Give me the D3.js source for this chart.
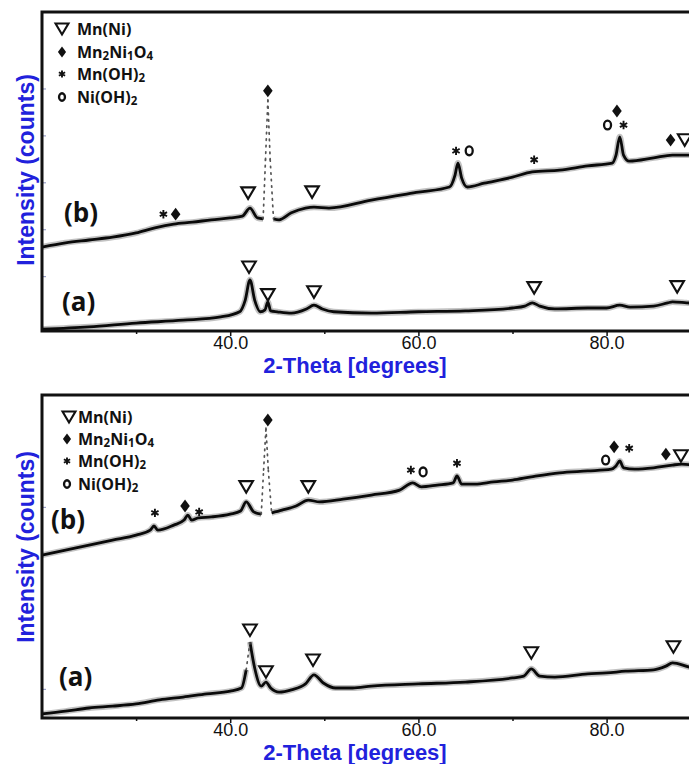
<!DOCTYPE html>
<html>
<head>
<meta charset="utf-8">
<script src="https://cdn.jsdelivr.net/npm/d3@7"></script>
<style>
  html, body { margin: 0; padding: 0; background: #fff; }
  svg { display: block; }
</style>
</head>
<body>
<svg id="chart" width="689" height="764"></svg>
<script>
// ---------------- DATA (2-Theta in degrees, intensity in counts) ----------------
const xTickValues = [30, 40, 50, 60, 70, 80];
const xTickLabels = ["", "40.0", "", "60.0", "", "80.0"];
const legendLabels = ["Mn(Ni)", "Mn2Ni1O4", "Mn(OH)2", "Ni(OH)2"];
const legendSymbols = ["tri", "dia", "ast", "o"];

// Upper figure
const upperB = [[20,262],[22.5,271],[25,277],[27.5,283],[30,292],[32,303],[34,311],[36,315],[38,320],[40,324],[41.3,328],[42.1,345],[42.9,324],[43.5,322],[43.75,448],[44.0,575],[44.25,448],[44.6,322],[45.2,320],[46.5,335],[48,345],[48.9,347],[50.5,345],[55,362],[60,379],[63.3,390],[63.9,416],[64.2,441],[64.6,409],[65.2,390],[67,398],[70,411],[72.1,422],[75,426],[78,435],[80.6,441],[81.0,458],[81.4,497],[81.8,458],[82.4,445],[85,452],[87,458],[90,458]];
const upperA = [[20,87],[25,92],[30,100],[35,106],[39,113],[41,124],[41.6,149],[42.1,192],[42.6,149],[43.2,124],[43.7,128],[44.0,145],[44.3,126],[45,124],[46.5,121],[48.1,130],[48.9,138],[49.8,130],[51,124],[55,121],[60,124],[65,126],[70,132],[71.3,136],[72.1,143],[72.9,136],[74.5,130],[78,132],[80,132],[81.4,138],[82.5,134],[85,136],[86.5,143],[87,145],[88.5,143],[90,141]];
const upperMarks = [
  ["ast",32.9,332],["dia",34.2,332],["tri",41.9,377],["dia",44.0,595],["tri",48.7,379],
  ["ast",64.0,467],["o",65.4,467],["ast",72.3,448],["o",80.1,522],["ast",81.8,522],["dia",81.1,552],
  ["dia",86.8,490],["tri",88.3,490],
  ["tri",42.0,219],["tri",44.0,160],["tri",48.9,166],["tri",72.3,175],["tri",87.5,177]
];
const upperYTicks = [200, 300, 400, 500, 600];

// Lower figure
const lowerB = [[20,394],[22.5,405],[25,416],[27.5,427],[30,438],[31.5,449],[31.9,458],[32.3,449],[34,460],[35.1,471],[35.5,482],[35.9,471],[36.6,476],[38,478],[40,484],[41.1,491],[41.7,511],[42.5,489],[43.3,484],[43.55,581],[43.8,673],[44.05,581],[44.4,487],[45.5,493],[47,502],[48.3,515],[49.5,511],[52,517],[55,526],[58,537],[59.4,553],[60.3,544],[62,548],[63.7,553],[64.1,568],[64.6,550],[66,550],[68,555],[70,559],[72,566],[75,575],[78,579],[80.5,583],[81.0,590],[81.4,601],[81.8,586],[83,583],[85,586],[87,592],[88,594],[90,590]];
const lowerA = [[20,45],[22.5,51],[25,58],[27.5,62],[30,67],[32.5,76],[35,82],[37.5,89],[40,95],[41.2,102],[41.7,142],[42.1,203],[42.6,146],[43.3,106],[43.8,115],[44.3,102],[45.2,93],[46.5,98],[48,111],[48.9,131],[49.9,113],[51.2,102],[53,102],[55,106],[60,111],[65,115],[70,124],[71.2,128],[72.0,144],[72.9,128],[74.5,126],[78,133],[80,135],[82,139],[85,142],[86.3,150],[87,157],[88.8,148],[90,144]];
const lowerMarks = [
  ["ast",32.0,487],["dia",35.2,502],["ast",36.7,489],["tri",41.7,544],["dia",44.0,691],["tri",48.3,544],
  ["ast",59.2,581],["o",60.5,577],["ast",64.1,596],["o",79.9,603],["dia",80.8,632],["ast",82.4,629],
  ["dia",86.3,616],["tri",87.9,612],
  ["tri",42.1,229],["tri",43.8,137],["tri",48.8,163],["tri",72.0,179],["tri",87.1,192]
];
const lowerYTicks = [100, 500];

// ---------------- LAYOUT ----------------
const svg = d3.select("#chart");
const BLUE = "#2121dc";
const x = d3.scaleLinear().domain([20, 90]).range([42, 700.7]);

const panels = [
  { top: 12, bottom: 331, yDomain: [83, 763], series: [upperB, upperA], marks: upperMarks, yTicks: upperYTicks,
    legend: { mx: 62, tx: 77, rows: [29, 52, 74, 97] },
    labels: [["(b)", 64, 222], ["(a)", 62, 311]], tickLabelPad: 0, xTitleY: 373, yTitleY: 170, triGap: 0 },
  { top: 395, bottom: 718, yDomain: [36, 746], series: [lowerB, lowerA], marks: lowerMarks, yTicks: lowerYTicks,
    legend: { mx: 67, tx: 78, rows: [417, 439, 461, 484] },
    labels: [["(b)", 51, 529], ["(a)", 59, 686]], tickLabelPad: 0, xTitleY: 760, yTitleY: 547, triGap: 2 }
];

function symbol(g, type, cx, cy, scale) {
  const s = scale || 1;
  if (type === "tri") {
    const w = 6.8 * s, h = 11.5 * s;
    g.append("path").attr("d", `M${cx - w},${cy - h / 2}L${cx + w},${cy - h / 2}L${cx},${cy + h / 2}Z`)
      .attr("fill", "#fff").attr("stroke", "#111").attr("stroke-width", 2.1).attr("stroke-linejoin", "miter");
  } else if (type === "dia") {
    const w = 4.8 * s, h = 6.4 * s;
    g.append("path").attr("d", `M${cx},${cy - h}L${cx + w},${cy}L${cx},${cy + h}L${cx - w},${cy}Z`).attr("fill", "#111");
  } else if (type === "ast") {
    const r = 4.2 * s;
    const p = [];
    for (let k = 0; k < 3; k++) {
      const a = Math.PI / 2 + k * Math.PI / 3;
      p.push(`M${cx - r * Math.cos(a)},${cy - r * Math.sin(a)}L${cx + r * Math.cos(a)},${cy + r * Math.sin(a)}`);
    }
    g.append("path").attr("d", p.join("")).attr("stroke", "#111").attr("stroke-width", 1.9).attr("fill", "none");
  } else if (type === "o") {
    g.append("ellipse").attr("cx", cx).attr("cy", cy).attr("rx", 3.5 * s).attr("ry", 4.4 * s)
      .attr("fill", "none").attr("stroke", "#111").attr("stroke-width", 2.3);
  }
}

function drawSeries(g, data, y) {
  const pts = data.map(d => [x(d[0]), y(d[1])]);
  const runs = [];
  let cur = [pts[0]];
  const dotted = [];
  for (let i = 0; i < pts.length - 1; i++) {
    const [x0, y0] = pts[i], [x1, y1] = pts[i + 1];
    const dy = Math.abs(y1 - y0), dx = Math.max(x1 - x0, 0.1);
    const steep = dy / dx > 7 && dy > 8;
    if (steep) {
      if (cur.length > 1) runs.push(cur);
      dotted.push([pts[i], pts[i + 1]]);
      cur = [pts[i + 1]];
    } else {
      cur.push(pts[i + 1]);
    }
  }
  if (cur.length > 1) runs.push(cur);
  const line = d3.line().curve(d3.curveMonotoneX);
  runs.forEach(r => {
    g.append("path").attr("d", line(r)).attr("fill", "none").attr("stroke", "#666")
      .attr("stroke-width", 6).attr("stroke-opacity", 0.4).attr("stroke-linejoin", "round");
    g.append("path").attr("d", line(r)).attr("fill", "none").attr("stroke", "#0a0a0a")
      .attr("stroke-width", 2.8).attr("stroke-linejoin", "round");
  });
  dotted.forEach(seg => {
    g.append("path").attr("d", d3.line()(seg)).attr("fill", "none").attr("stroke", "#555")
      .attr("stroke-width", 1.7).attr("stroke-dasharray", "1.5,5").attr("stroke-linecap", "round");
  });
}

panels.forEach(P => {
  const y = d3.scaleLinear().domain(P.yDomain).range([P.bottom, P.top]);
  const g = svg.append("g");

  // y ticks (tiny, inside the frame)
  const ya = g.append("g").attr("transform", `translate(${x.range()[0]},0)`)
    .call(d3.axisLeft(y).tickValues(P.yTicks).tickSize(-4).tickFormat(""));
  ya.select(".domain").remove();
  ya.selectAll(".tick line").attr("stroke", "#9aa0c8").attr("stroke-width", 1.2);

  // data
  P.series.forEach(s => drawSeries(g, s, y));

  // frame
  g.append("rect").attr("x", x.range()[0]).attr("y", P.top)
    .attr("width", x.range()[1] - x.range()[0]).attr("height", P.bottom - P.top)
    .attr("fill", "none").attr("stroke", "#111").attr("stroke-width", 3);

  // x axis
  const xa = g.append("g").attr("transform", `translate(0,${P.bottom})`)
    .call(d3.axisBottom(x).tickValues(xTickValues)
      .tickFormat((d, i) => xTickLabels[i]).tickSize(5).tickPadding(P.tickLabelPad));
  xa.select(".domain").remove();
  xa.selectAll(".tick line").attr("stroke", "#111").attr("stroke-width", 1.5)
    .attr("y2", (d, i) => xTickLabels[i] ? 5 : 3);
  xa.selectAll(".tick text").attr("font-family", "Liberation Sans, Arial, sans-serif")
    .attr("font-size", 18).attr("fill", "#111");

  // axis titles
  g.append("text").attr("x", 355).attr("y", P.xTitleY).attr("text-anchor", "middle")
    .attr("font-family", "Liberation Sans, Arial, sans-serif").attr("font-weight", "bold")
    .attr("font-size", 22).attr("fill", BLUE).text("2-Theta [degrees]");
  g.append("text").attr("transform", `translate(34,${P.yTitleY}) rotate(-90)`).attr("text-anchor", "middle")
    .attr("font-family", "Liberation Sans, Arial, sans-serif").attr("font-weight", "bold")
    .attr("font-size", 23).attr("fill", BLUE).text("Intensity (counts)");

  // legend
  legendLabels.forEach((lab, i) => {
    const cy = P.legend.rows[i];
    const mx = (legendSymbols[i] === "tri") ? P.legend.mx + P.triGap : P.legend.mx;
    symbol(g, legendSymbols[i], mx, cy, legendSymbols[i] === "tri" ? 0.95 : 0.85);
    const t = g.append("text").attr("x", P.legend.tx).attr("y", cy + 5.5)
      .attr("font-family", "'Open Sans', Lato, sans-serif").attr("font-weight", "bold")
      .attr("font-size", 16).attr("fill", "#111");
    const parts = lab.match(/[0-9]+|[^0-9]+/g);
    let sub = false;
    parts.forEach(p => {
      const isNum = /^[0-9]+$/.test(p);
      const ts = t.append("tspan").text(p);
      if (isNum && !sub) { ts.attr("dy", 2.5).attr("font-size", 11.5); sub = true; }
      else if (isNum && sub) { ts.attr("font-size", 11.5); }
      else if (!isNum && sub) { ts.attr("dy", -2.5); sub = false; }
    });
  });

  // phase markers on patterns
  P.marks.forEach(m => symbol(g, m[0], x(m[1]), y(m[2]), 1));

  // pattern labels
  P.labels.forEach(l => {
    g.append("text").attr("x", l[1]).attr("y", l[2])
      .attr("font-family", "'Open Sans', Lato, sans-serif").attr("font-weight", "bold")
      .attr("font-size", 26).attr("fill", "#111").text(l[0]);
  });
});
</script>
</body>
</html>
